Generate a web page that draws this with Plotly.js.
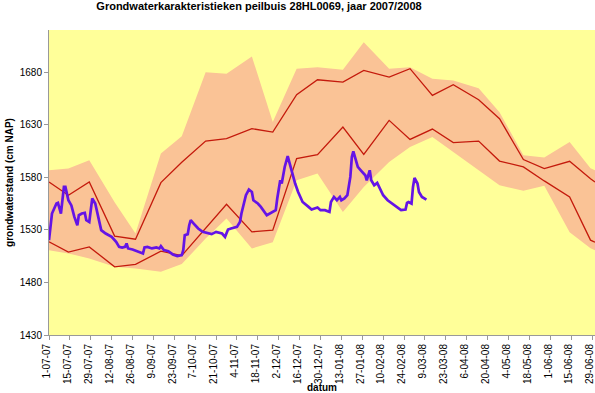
<!DOCTYPE html>
<html>
<head>
<meta charset="utf-8">
<script src="https://cdn.plot.ly/plotly-3.0.1.min.js"></script>
<style>html,body{margin:0;padding:0;background:#fff}#chart{width:595px;height:393px}</style>
</head>
<body>
<div id="chart"></div>
<script>
// Characteristic dates (14th and 28th of each month, plus chart edges)
const bandDates = ['2007-07-01','2007-07-14','2007-07-28','2007-08-14','2007-08-28','2007-09-14','2007-09-28','2007-10-14','2007-10-28','2007-11-14','2007-11-28','2007-12-14','2007-12-28','2008-01-14','2008-01-28','2008-02-14','2008-02-28','2008-03-14','2008-03-28','2008-04-14','2008-04-28','2008-05-14','2008-05-28','2008-06-14','2008-06-28','2008-07-01'];
const bandUpper = [1586.6,1588.2,1596.1,1556.2,1526.5,1602.5,1618.9,1679.9,1678.4,1694.8,1632.5,1683.2,1684.7,1682.2,1708.4,1683.2,1684.7,1673.7,1672.0,1664.5,1641.7,1600.9,1598.7,1613.5,1588.5,1586.6];
const bandLower = [1510.7,1507.6,1502.8,1494.8,1493.3,1490.1,1497.4,1521.8,1540.8,1512.3,1518.3,1577.1,1583.5,1547.0,1570.8,1594.5,1608.7,1618.2,1604.0,1586.6,1572.4,1567.2,1571.9,1527.8,1512.6,1510.7];
const upperLine = [1575.5,1562.9,1575.5,1524.0,1521.1,1574.9,1594.2,1614.4,1616.7,1626.2,1623.0,1658.5,1672.7,1670.4,1681.5,1675.2,1683.2,1657.8,1668.0,1653.7,1635.7,1596.8,1588.2,1595.2,1578.5,1575.5];
const lowerLine = [1518.6,1508.8,1513.8,1494.8,1497.1,1509.7,1505.5,1532.0,1554.3,1528.1,1529.7,1597.7,1601.5,1627.7,1601.8,1634.1,1616.0,1625.8,1612.9,1614.4,1595.4,1589.8,1576.5,1561.3,1520.2,1518.3];

// Measured groundwater level
const measDates = ['2007-07-01','2007-07-03','2007-07-06','2007-07-07','2007-07-09','2007-07-11','2007-07-12','2007-07-14','2007-07-16','2007-07-18','2007-07-20','2007-07-21','2007-07-23','2007-07-25','2007-07-26','2007-07-28','2007-07-29','2007-07-30','2007-08-01','2007-08-03','2007-08-05','2007-08-08','2007-08-12','2007-08-15','2007-08-17','2007-08-19','2007-08-21','2007-08-22','2007-08-23','2007-08-26','2007-08-30','2007-09-02','2007-09-03','2007-09-05','2007-09-08','2007-09-11','2007-09-13','2007-09-14','2007-09-16','2007-09-19','2007-09-22','2007-09-25','2007-09-28','2007-09-29','2007-09-30','2007-10-02','2007-10-03','2007-10-04','2007-10-06','2007-10-09','2007-10-12','2007-10-15','2007-10-18','2007-10-21','2007-10-25','2007-10-27','2007-10-29','2007-10-31','2007-11-04','2007-11-06','2007-11-07','2007-11-10','2007-11-12','2007-11-14','2007-11-15','2007-11-18','2007-11-20','2007-11-24','2007-11-26','2007-11-29','2007-11-30','2007-12-01','2007-12-03','2007-12-04','2007-12-06','2007-12-08','2007-12-11','2007-12-13','2007-12-15','2007-12-18','2007-12-22','2007-12-24','2007-12-26','2007-12-28','2007-12-30','2008-01-02','2008-01-05','2008-01-06','2008-01-08','2008-01-10','2008-01-12','2008-01-13','2008-01-15','2008-01-17','2008-01-19','2008-01-20','2008-01-21','2008-01-23','2008-01-24','2008-01-26','2008-01-29','2008-01-30','2008-02-01','2008-02-02','2008-02-04','2008-02-06','2008-02-08','2008-02-10','2008-02-13','2008-02-16','2008-02-19','2008-02-22','2008-02-25','2008-02-26','2008-02-27','2008-02-29','2008-03-01','2008-03-02','2008-03-04','2008-03-05','2008-03-07','2008-03-09','2008-03-10'];
const measValues = [1520.2,1545.5,1555.0,1555.6,1545.5,1570.8,1570.8,1558.1,1553.2,1542.3,1534.4,1543.9,1545.5,1546.1,1539.2,1537.5,1548.7,1559.8,1555.0,1542.3,1529.7,1526.5,1523.3,1518.6,1513.8,1513.2,1513.8,1517.0,1512.3,1511.3,1509.1,1507.5,1513.2,1513.8,1512.3,1513.2,1512.3,1514.5,1510.7,1509.7,1506.6,1505.0,1505.9,1510.7,1524.9,1525.9,1534.4,1539.2,1536.0,1531.3,1528.1,1527.1,1525.9,1528.1,1526.5,1523.3,1530.3,1531.3,1532.8,1537.5,1545.5,1562.9,1568.3,1566.0,1558.1,1555.0,1551.8,1543.9,1545.5,1548.0,1548.7,1559.8,1577.1,1574.0,1589.8,1600.0,1583.5,1574.0,1566.0,1556.5,1551.8,1549.3,1550.3,1551.2,1548.7,1548.7,1547.0,1556.5,1561.3,1558.1,1561.3,1558.1,1559.8,1562.9,1580.3,1599.2,1604.7,1596.1,1589.8,1586.6,1581.9,1577.1,1586.6,1577.1,1572.4,1574.6,1569.2,1562.9,1558.1,1555.0,1551.8,1548.7,1549.3,1555.6,1556.5,1555.0,1570.8,1579.3,1574.0,1566.0,1561.3,1559.1,1558.8];

// Axis ticks
const tickDates = ['2007-07-01','2007-07-15','2007-07-29','2007-08-12','2007-08-26','2007-09-09','2007-09-23','2007-10-07','2007-10-21','2007-11-04','2007-11-18','2007-12-02','2007-12-16','2007-12-30','2008-01-13','2008-01-27','2008-02-10','2008-02-24','2008-03-09','2008-03-23','2008-04-06','2008-04-20','2008-05-04','2008-05-18','2008-06-01','2008-06-15','2008-06-29'];
const tickLabels = ['1-07-07','15-07-07','29-07-07','12-08-07','26-08-07','9-09-07','23-09-07','7-10-07','21-10-07','4-11-07','18-11-07','2-12-07','16-12-07','30-12-07','13-01-08','27-01-08','10-02-08','24-02-08','9-03-08','23-03-08','6-04-08','20-04-08','4-05-08','18-05-08','1-06-08','15-06-08','29-06-08'];
const yTicks = [1430,1480,1530,1580,1630,1680];

const FONT = 'Arial, "Liberation Sans", sans-serif';
const traces = [
  {x: bandDates, y: bandLower, type: 'scatter', mode: 'lines', line: {width: 0, color: 'rgba(0,0,0,0)'}, hoverinfo: 'skip'},
  {x: bandDates, y: bandUpper, type: 'scatter', mode: 'lines', fill: 'tonexty', fillcolor: '#FAC396', line: {width: 0, color: 'rgba(0,0,0,0)'}},
  {x: bandDates, y: upperLine, type: 'scatter', mode: 'lines', line: {color: '#C41A0C', width: 1.3}},
  {x: bandDates, y: lowerLine, type: 'scatter', mode: 'lines', line: {color: '#C41A0C', width: 1.3}},
  {x: measDates, y: measValues, type: 'scatter', mode: 'lines', line: {color: '#6414E6', width: 2.7}}
];

const layout = {
  width: 595, height: 393,
  margin: {l: 49, r: 0, t: 30, b: 58, pad: 0},
  paper_bgcolor: '#ffffff', plot_bgcolor: '#FFFF99',
  showlegend: false,
  font: {family: FONT, size: 10, color: '#000'},
  title: {text: 'Grondwaterkarakteristieken peilbuis 28HL0069, jaar 2007/2008', font: {family: FONT, size: 11, weight: 'bold', color: '#000'}, x: 259/595, xref: 'container', xanchor: 'center', y: 1 - 6/393, yref: 'container', yanchor: 'middle'},
  xaxis: {
    type: 'date', range: ['2007-07-01', '2008-07-01'],
    tickmode: 'array', tickvals: tickDates, ticktext: tickLabels, tickangle: -90,
    ticks: 'outside', ticklen: 4, tickcolor: '#999',
    showline: true, linecolor: '#999', linewidth: 1, showgrid: false, zeroline: false,
    tickfont: {family: FONT, size: 10, color: '#000'},
    ticklabeloverflow: 'allow', ticklabelshift: -2,
    title: {text: 'datum', font: {family: FONT, size: 10, weight: 'bold', color: '#000'}, standoff: 2},
    automargin: false, fixedrange: true
  },
  yaxis: {
    range: [1430, 1720], tickmode: 'array', tickvals: yTicks,
    ticks: 'outside', ticklen: 4, tickcolor: '#999',
    showline: true, linecolor: '#999', linewidth: 1, showgrid: false, zeroline: false,
    tickfont: {family: FONT, size: 10, color: '#000'},
    title: {text: 'grondwaterstand (cm NAP)', font: {family: FONT, size: 10, weight: 'bold', color: '#000'}, standoff: 4},
    automargin: false, fixedrange: true
  }
};

Plotly.newPlot('chart', traces, layout, {displayModeBar: false, staticPlot: true});
</script>
</body>
</html>
